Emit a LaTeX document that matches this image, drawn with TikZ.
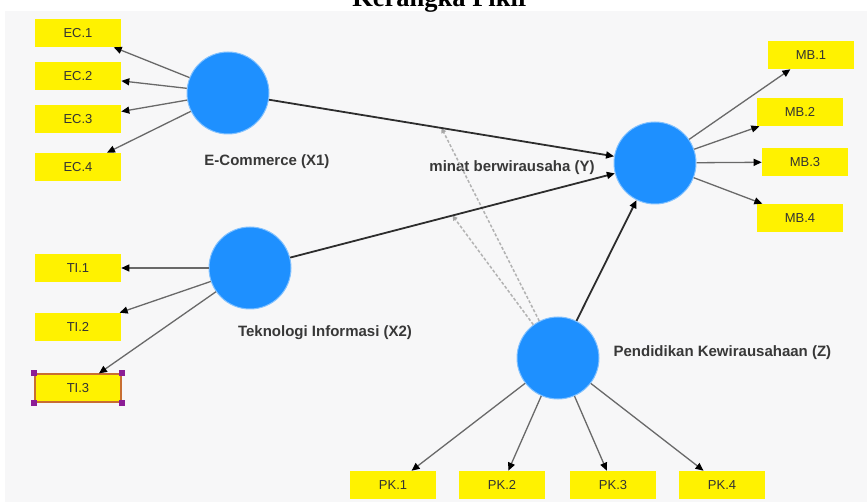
\documentclass[tikz,border=0pt]{standalone}
\usepackage{fontspec}
\setmainfont{Liberation Sans}
\newfontfamily\titlefont{Liberation Serif}
\usepackage{tikz}
\usetikzlibrary{arrows.meta,calc}
\definecolor{latentblue}{RGB}{30,144,255}
\definecolor{panel}{RGB}{247,247,248}
\definecolor{loadline}{RGB}{105,105,105}
\definecolor{pathline}{RGB}{45,45,45}
\definecolor{handle}{RGB}{140,30,150}
\definecolor{selborder}{RGB}{200,110,50}

\begin{document}
\begin{tikzpicture}[->,>={Triangle[length=8pt,width=7pt,color=black]},x=1pt,y=-1pt,
		semithick]
		\tikzstyle{every node}=[font=\bfseries\fontsize{15}{17}\selectfont,text=black!78]
		\tikzstyle{latent}=[circle,fill=latentblue,draw=latentblue!55!white,line width=1pt,minimum size=82pt,inner sep=0pt]
		\tikzstyle{indicator}=[rectangle,fill=yellow,text=black!80,minimum width=86pt,minimum height=28pt,inner sep=0pt,font=\fontsize{13}{15}\selectfont]
		\tikzstyle{loading}=[draw=loadline,line width=1.3pt]
		\tikzstyle{structural}=[draw=pathline,line width=1.8pt]
		\tikzstyle{moderate}=[draw=gray!60,densely dashed,line width=1.5pt,>={Triangle[length=5pt,width=5pt,color=gray!70]}]
		
		\useasboundingbox (0,0) rectangle (867,502);
		\fill[panel] (5,11) rectangle (867,502);
		\node[font=\titlefont\bfseries\fontsize{26.5}{30}\selectfont,text=black,anchor=base] (title) at (441,7) {Kerangka Pikir};
		
		\node[latent] (x1) at (228,93)  {};
		\node[latent] (x2) at (250,268) {};
		\node[latent] (y)  at (655,163) {};
		\node[latent] (z)  at (558,358) {};
		
		\node (x1lab) at (267,162) {E-Commerce (X1)};
		\node (x2lab) at (325,333) {Teknologi Informasi (X2)};
		\node (ylab)  at (512,168) {minat berwirausaha (Y)};
		\node (zlab)  [anchor=west] at (610,353) {Pendidikan Kewirausahaan (Z)};
		
		\node[indicator] (ec1) at (78,33)  {EC.1};
		\node[indicator] (ec2) at (78,76)  {EC.2};
		\node[indicator] (ec3) at (78,119) {EC.3};
		\node[indicator] (ec4) at (78,167) {EC.4};
		
		\node[indicator] (ti1) at (78,268) {TI.1};
		\node[indicator] (ti2) at (78,327) {TI.2};
		\node[indicator,draw=selborder,line width=1.2pt] (ti3) at (78,388) {TI.3};
		
		\node[indicator] (mb1) at (811,55)  {MB.1};
		\node[indicator] (mb2) at (800,112) {MB.2};
		\node[indicator] (mb3) at (805,162) {MB.3};
		\node[indicator] (mb4) at (800,218) {MB.4};
		
		\node[indicator] (pk1) at (393,485) {PK.1};
		\node[indicator] (pk2) at (502,485) {PK.2};
		\node[indicator] (pk3) at (613,485) {PK.3};
		\node[indicator] (pk4) at (722,485) {PK.4};
		
		% selection handles
		\foreach \c in {north west,north east,south west,south east}
		\fill[handle] (ti3.\c) ++(-3,-3) rectangle ++(6,6);
		
		\coordinate (m1) at ($(x1)!0.5!(y)$);
		\coordinate (m2) at ($(x2)!0.5!(y)$);
		
		\path (x1) edge [loading] (ec1)
		edge [loading] (ec2)
		edge [loading] (ec3)
		edge [loading] (ec4)
		(x2) edge [loading] (ti1)
		edge [loading] (ti2)
		edge [loading] (ti3)
		(y) edge [loading] (mb1)
		edge [loading] (mb2)
		edge [loading] (mb3)
		edge [loading] (mb4)
		(z) edge [loading] (pk1)
		edge [loading] (pk2)
		edge [loading] (pk3)
		edge [loading] (pk4);
		
		\path (z) edge [moderate] (m1)
		edge [moderate] (m2);
		
		\path (x1) edge [structural] (y)
		(x2) edge [structural] (y)
		(z) edge [structural] (y);
		\end{tikzpicture}
\end{document}
